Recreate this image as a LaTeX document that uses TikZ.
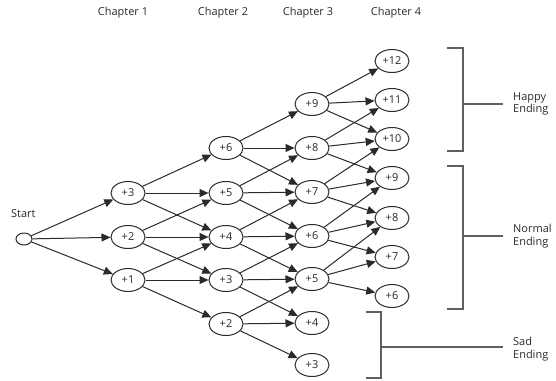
\documentclass[tikz,border=0pt]{standalone}
\usepackage{fontspec}
\setmainfont{Open Sans}
\usetikzlibrary{shapes.geometric,arrows.meta}
\definecolor{ink}{HTML}{2A2A2A}
\tikzset{
  state/.style={ellipse,draw=ink,line width=1bp,minimum width=34bp,minimum height=23bp,inner sep=0pt,font=\fontsize{11}{12}\selectfont,text=ink},
  startnode/.style={ellipse,draw=ink,line width=1bp,minimum width=16bp,minimum height=12bp,inner sep=0pt},
  arr/.style={draw=ink,line width=1bp,-{Triangle[length=9bp,width=8bp]}},
  brk/.style={draw=ink!75,line width=1.2bp},
  lbl/.style={font=\fontsize{11}{12.5}\selectfont,text=ink,align=left,anchor=west,inner sep=0pt},
  chap/.style={font=\fontsize{11}{12}\selectfont,text=ink,inner sep=0pt}
}
\begin{document}
\begin{tikzpicture}[x=1bp,y=-1bp]
\useasboundingbox (0,0) rectangle (556,380);
% chapter labels
\node[chap] (ch1) at (123,13) {Chapter 1};
\node[chap] (ch2) at (223,13) {Chapter 2};
\node[chap] (ch3) at (308,13) {Chapter 3};
\node[chap] (ch4) at (396,13) {Chapter 4};
% start
\node[startnode] (s) at (24,239) {};
\node[chap,anchor=west] (st) at (11,214) {Start};
% column 1
\node[state] (a3) at (128,193) {+3};
\node[state] (a2) at (128,237) {+2};
\node[state] (a1) at (128,280) {+1};
% column 2
\node[state] (b6) at (226,148) {+6};
\node[state] (b5) at (226,193) {+5};
\node[state] (b4) at (226,237) {+4};
\node[state] (b3) at (226,280) {+3};
\node[state] (b2) at (226,324) {+2};
% column 3
\node[state] (c9) at (312,104) {+9};
\node[state] (c8) at (312,148) {+8};
\node[state] (c7) at (312,192) {+7};
\node[state] (c6) at (312,236) {+6};
\node[state] (c5) at (312,279) {+5};
\node[state] (c4) at (312,323) {+4};
\node[state] (c3) at (312,365) {+3};
% column 4
\node[state] (d12) at (392,61) {+12};
\node[state] (d11) at (392,100) {+11};
\node[state] (d10) at (392,139) {+10};
\node[state] (d9) at (392,178) {+9};
\node[state] (d8) at (392,218) {+8};
\node[state] (d7) at (392,257) {+7};
\node[state] (d6) at (392,296) {+6};
% edges
\foreach \t in {a3,a2,a1} \draw[arr] (s) -- (\t);
\foreach \f/\t in {a3/b6,a3/b5,a3/b4,a2/b5,a2/b4,a2/b3,a1/b4,a1/b3,a1/b2}
  \draw[arr] (\f) -- (\t);
\foreach \f/\t in {b6/c9,b6/c8,b6/c7,b5/c8,b5/c7,b5/c6,b4/c7,b4/c6,b4/c5,b3/c6,b3/c5,b3/c4,b2/c5,b2/c4,b2/c3}
  \draw[arr] (\f) -- (\t);
\foreach \f/\t in {c9/d12,c9/d11,c9/d10,c8/d11,c8/d10,c8/d9,c7/d10,c7/d9,c7/d8,c6/d9,c6/d8,c6/d7,c5/d8,c5/d7,c5/d6}
  \draw[arr] (\f) -- (\t);
% brackets
\coordinate (h1) at (447,48);
\coordinate (h2) at (463,48);
\coordinate (h3) at (463,151);
\coordinate (h4) at (447,151);
\coordinate (hm) at (463,104);
\coordinate (he) at (503,104);
\draw[brk] (h1) -- (h2) -- (h3) -- (h4);
\draw[brk] (hm) -- (he);
\node[lbl] (hl) at (513,104) {Happy\\Ending};
\coordinate (n1) at (447,166);
\coordinate (n2) at (463,166);
\coordinate (n3) at (463,309);
\coordinate (n4) at (447,309);
\coordinate (nm) at (463,236);
\coordinate (ne) at (503,236);
\draw[brk] (n1) -- (n2) -- (n3) -- (n4);
\draw[brk] (nm) -- (ne);
\node[lbl] (nl) at (513,236) {Normal\\Ending};
\coordinate (d1) at (366,312);
\coordinate (d2) at (381,312);
\coordinate (d3) at (381,378);
\coordinate (d4) at (366,378);
\coordinate (dm) at (381,347);
\coordinate (de) at (503,347);
\draw[brk] (d1) -- (d2) -- (d3) -- (d4);
\draw[brk] (dm) -- (de);
\node[lbl] (dl) at (513,349) {Sad\\Ending};
\end{tikzpicture}
\end{document}
